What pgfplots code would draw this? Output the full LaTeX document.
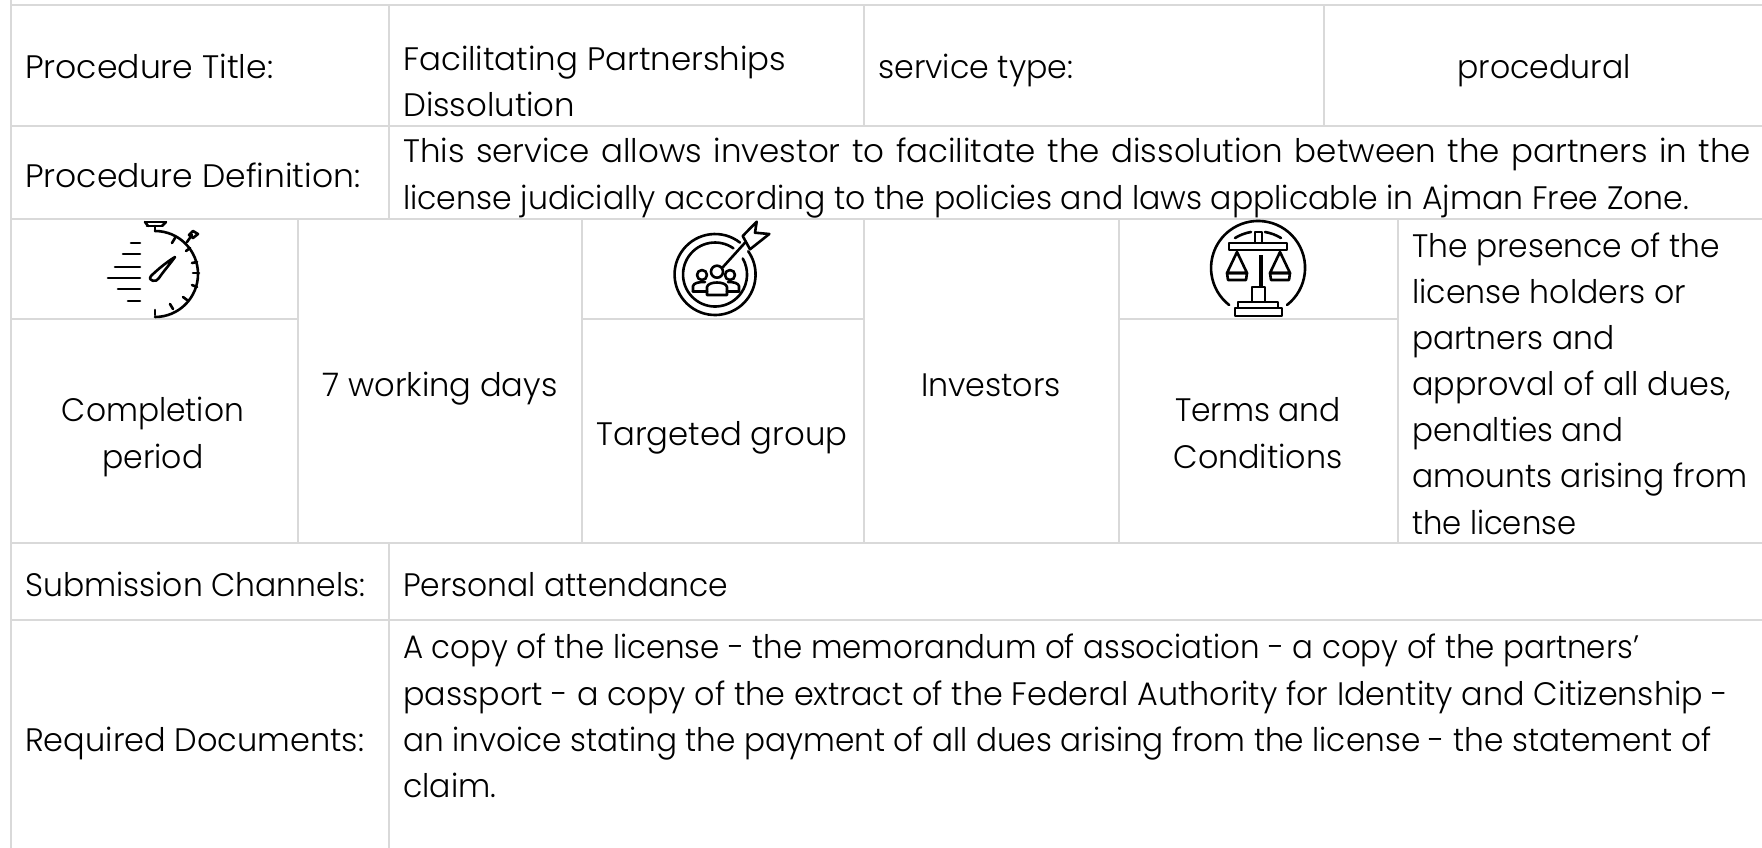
\documentclass[border=0pt]{standalone}
\usepackage{fontspec}
\setmainfont{Poppins Light}
\usepackage{graphicx}
\usepackage{pgfplots}
\pgfplotsset{compat=1.18}
\definecolor{gridc}{HTML}{D9D9D9}
\newcommand{\Hl}[3]{\addplot[draw=gridc,line width=2pt,forget plot] coordinates {(#1,#3) (#2,#3)};}
\newcommand{\Vl}[3]{\addplot[draw=gridc,line width=2pt,forget plot] coordinates {(#3,#1) (#3,#2)};}
\newcommand{\fs}{\fontsize{32.5}{38}\selectfont}
\newcommand{\TL}[4]{\node[anchor=base west,inner sep=0pt] at (axis cs:#1,#2) {\resizebox{#3pt}{\height}{\fs #4}};}
\newcommand{\TC}[4]{\node[anchor=base,inner sep=0pt] at (axis cs:#1,#2) {\resizebox{#3pt}{\height}{\fs #4}};}
\newcommand{\TJ}[4]{\node[anchor=base west,inner sep=0pt] at (axis cs:#1,#2) {\fs\makebox[#3pt][s]{#4}};}
\newcommand{\Sg}[4]{\draw (#1,#2)--(#3,#4);}
\begin{document}
\begin{tikzpicture}
\path[use as bounding box] (0,0) rectangle (1762pt,848pt);
\begin{axis}[at={(0,0)},anchor=south west,scale only axis,width=1762pt,height=848pt,xmin=0,xmax=1762,ymin=0,ymax=848,y dir=reverse,hide axis,clip=true]
% grid
\Hl{10}{1762}{5}\Hl{10}{1762}{126}\Hl{10}{1762}{219}\Hl{10}{1762}{543}\Hl{10}{1762}{620}
\Hl{10}{298}{319}\Hl{582}{864}{319}\Hl{1119}{1398}{319}
\Vl{0}{848}{10.5}
\Vl{5}{219}{389}\Vl{5}{126}{864}\Vl{5}{126}{1324}
\Vl{219}{543}{298}\Vl{219}{543}{582}\Vl{219}{543}{864}\Vl{219}{543}{1119}\Vl{219}{543}{1398}
\Vl{543}{848}{389}
% text
\TL{25}{79}{248}{Procedure Title:}
\TL{403}{71}{383}{Facilitating Partnerships}
\TL{403}{117}{172}{Dissolution}
\TL{878}{79}{195}{service type:}
\TC{1544}{79}{173}{procedural}
\TL{25}{187}{335}{Procedure Definition:}
\TJ{403}{163}{1348}{This service allows investor to facilitate the dissolution between the partners in the}
\TL{403}{209}{1286}{license judicially according to the policies and laws applicable in Ajman Free Zone.}
\TC{153}{421}{182}{Completion}
\TC{153}{468}{101}{period}
\TC{440}{396}{235}{7 working days}
\TC{722}{445}{251}{Targeted group}
\TC{991}{396}{140}{Investors}
\TC{1258}{421}{166}{Terms and}
\TC{1258}{468}{169}{Conditions}
\TL{1412}{257}{308}{The presence of the}
\TL{1412}{303}{274}{license holders or}
\TL{1412}{349}{202}{partners and}
\TL{1412}{395}{319}{approval of all dues,}
\TL{1412}{441}{211}{penalties and}
\TL{1412}{487}{335}{amounts arising from}
\TL{1412}{534}{164}{the license}
\TL{25}{596}{340}{Submission Channels:}
\TL{403}{596}{325}{Personal attendance}
\TL{403}{658}{1236}{A copy of the license - the memorandum of association - a copy of the partners'}
\TL{403}{705}{1325}{passport - a copy of the extract of the Federal Authority for Identity and Citizenship -}
\TL{403}{751}{1308}{an invoice stating the payment of all dues arising from the license - the statement of}
\TL{403}{797}{93}{claim.}
\TL{25}{751}{339}{Required Documents:}
\begin{scope}[line width=2.6pt,line cap=round,line join=round,black]
% stopwatch
\draw (155,231) arc[start angle=90,end angle=-90,radius=43pt];
\Sg{175}{238}{172}{243}\Sg{190}{248}{186}{251}\Sg{197}{262}{192}{263}\Sg{199}{273}{193}{273}\Sg{197}{287}{192}{285}\Sg{187}{300}{183}{297}\Sg{173}{309}{170}{304}\Sg{155}{315}{155}{310}
\draw (145,222)--(166,222); \draw (147,226)--(162,226); \draw (155,226)--(155,231); \draw (145,222)--(148,226); \draw (166,222)--(162,226);
\draw (187,242)--(192,235); \draw (193,231)--(198,234)--(193,238)--(189,235)--cycle;
\draw (175,257)..controls(165,263)and(155,272)..(151,276)..controls(147,281)and(157,283)..(159,278)..controls(163,272)and(170,264)..cycle;
\draw (131,243)--(140,243); \draw (123,254)--(140,254); \draw (115,267)--(140,267); \draw (108,278)--(140,278); \draw (118,289)--(140,289); \draw (128,301)--(140,301);
% target
\draw (740,242.6) arc[start angle=52,end angle=395,radius=40.5pt];
\draw (733.4,248.3) arc[start angle=55,end angle=390,radius=32pt];
\draw (723,267)--(745,242.7);
\draw (756.7,221.7)--(742.7,236)--(750,249.3)--(769.3,234)--(755,232.7)--cycle;
\draw (702,275) circle[radius=5pt]; \draw (717,271.7) circle[radius=6pt]; \draw (730,275) circle[radius=5pt];
\draw (693,291.5)--(693,286)..controls(694,283)and(698,282)..(705,282);
\draw (739,291.5)--(739,286)..controls(738,283)and(734,282)..(728,282);
\draw (707,295)--(707,287)..controls(708,281)and(726,281)..(727,287)--(727,295)--cycle;
\draw (693,291.5)--(707,291.5); \draw (727,291.5)--(739,291.5);
% scales
\draw (1287,305) arc[start angle=-52,end angle=232,radius=47pt];
\draw (1229,243)--(1287,243)--(1287,250)--(1229,250)--cycle;
\draw (1255,232)--(1262,232)--(1262,243)--(1255,243)--cycle;
\draw (1235,238) .. controls(1240,235)and(1245,233)..(1251,232);
\draw (1281,238) .. controls(1276,235)and(1271,233)..(1265,232);
\draw[line width=3.2pt,line cap=butt] (1261,255)--(1261,287);
\draw (1252,287)--(1265,287)--(1265,302)--(1252,302)--cycle;
\draw (1238,302)--(1278,302)--(1278,308)--(1238,308)--cycle;
\draw (1235,308)--(1282,308)--(1282,316)--(1235,316)--cycle;
\draw (1237,252)--(1227,273)--(1247,273)--cycle;
\draw (1227,273)--(1247,273)--(1246,280)--(1228,280)--cycle;
\draw (1280,252)--(1270,273)--(1290,273)--cycle;
\draw (1270,273)--(1290,273)--(1289,280)--(1271,280)--cycle;
\end{scope}
\end{axis}
\end{tikzpicture}
\end{document}
